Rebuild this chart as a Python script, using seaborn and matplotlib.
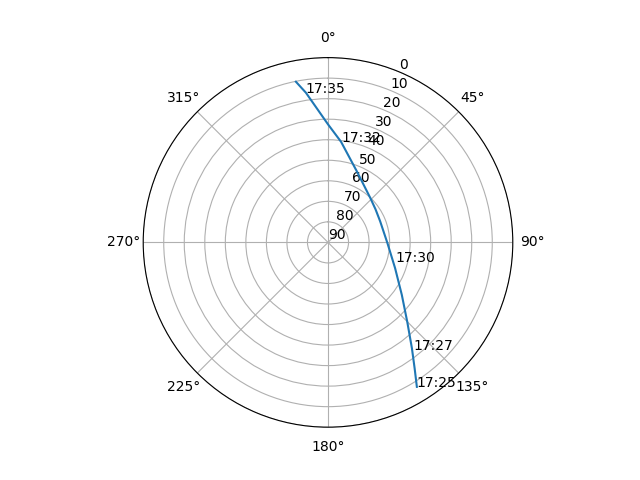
import numpy as np
import pandas as pd
import matplotlib
matplotlib.use("Agg")
import matplotlib.pyplot as plt
import seaborn as sns

# track of the pass: azimuth (deg, clockwise from north) and elevation (deg)
track_az = [148.4, 145.5, 141.6, 135.1, 125.4, 111.0, 91.0, 68.0, 55.2, 43.5,
            22.0, 7.4, 0.0, 351.6, 348.7]
track_el = [7.4, 15.5, 24.2, 35.3, 45.9, 55.0, 61.0, 62.6, 61.8, 60.1,
            52.6, 40.6, 32.5, 16.3, 10.2]

# time labels along the track
label_times = ["17:25", "17:27", "17:30", "17:32", "17:35"]
label_az = [148.4, 141.5, 106.2, 7.4, 351.6]
label_el = [7.4, 23.1, 55.6, 40.6, 16.3]

df = pd.DataFrame({"theta": np.radians(track_az), "el": track_el})

fig, ax = plt.subplots(figsize=(6.4, 4.8), dpi=100, subplot_kw={"projection": "polar"})
ax.set_theta_zero_location("N")
ax.set_theta_direction(-1)

sns.lineplot(data=df, x="theta", y="el", sort=False, ax=ax, color="#1f77b4")

for t, a, e in zip(label_times, label_az, label_el):
    ax.text(np.radians(a), e, t)

ax.set_rlim(90, 0)
ax.set_yticks(range(0, 91, 10))
ax.set_xlabel("")
ax.set_ylabel("")

plt.savefig("out.png")
